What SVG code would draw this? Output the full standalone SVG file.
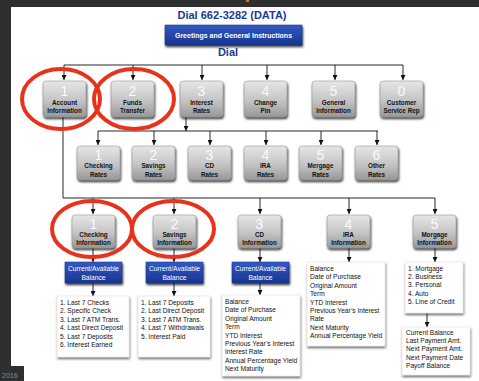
<svg xmlns="http://www.w3.org/2000/svg" width="479" height="381" viewBox="0 0 479 381">
<defs>
<linearGradient id="gGray" x1="0" y1="0" x2="0" y2="1">
<stop offset="0" stop-color="#e6e6e6"/><stop offset="0.55" stop-color="#c4c4c4"/><stop offset="1" stop-color="#979797"/>
</linearGradient>
<linearGradient id="gBlue" x1="0" y1="0" x2="0" y2="1">
<stop offset="0" stop-color="#3358c4"/><stop offset="1" stop-color="#1a358f"/>
</linearGradient>
<filter id="sh" x="-20%" y="-20%" width="150%" height="160%">
<feDropShadow dx="0.8" dy="1.8" stdDeviation="0.8" flood-color="#000" flood-opacity="0.8"/>
</filter>
<filter id="shl" x="-20%" y="-20%" width="150%" height="150%">
<feDropShadow dx="0.6" dy="1.8" stdDeviation="0.9" flood-color="#000" flood-opacity="0.6"/>
</filter>
<marker id="ah" viewBox="0 0 10 10" refX="10" refY="5" markerWidth="5" markerHeight="5" markerUnits="userSpaceOnUse" orient="auto">
<path d="M0,0 L10,5 L0,10 z" fill="#111"/>
</marker>
</defs>
<style>
.btn{fill:url(#gGray);stroke:#8a8a8a;stroke-width:0.5;filter:url(#sh)}
.num{font-family:"Liberation Sans",Arial,sans-serif;font-size:14px;fill:#fafafa;text-anchor:middle}
.lbl{font-family:"Liberation Sans",Arial,sans-serif;font-size:6.3px;font-weight:bold;fill:#111;text-anchor:middle}
.blue{fill:url(#gBlue);stroke:#15307e;stroke-width:0.5;filter:url(#sh)}
.bt{font-family:"Liberation Sans",Arial,sans-serif;font-size:6.7px;fill:#fff;text-anchor:middle}
.list{fill:#fff;stroke:#d8d8d8;stroke-width:0.5;filter:url(#shl)}
.lt{font-family:"Liberation Sans",Arial,sans-serif;font-size:6.6px;fill:#111}
.ln{fill:none;stroke:#111;stroke-width:0.9}
.arr{fill:none;stroke:#111;stroke-width:0.9;marker-end:url(#ah)}
.ring{fill:none;stroke:#e8321c;stroke-width:4}
</style>
<rect x="0" y="0" width="479" height="381" fill="#2d2f31"/>
<rect x="11" y="7" width="468" height="374" fill="#ffffff"/>
<rect x="0" y="366" width="24" height="15" fill="#2d2f31"/>
<rect x="246" y="0" width="3" height="2" fill="#d9742b"/>
<text x="2" y="378" font-family="Liberation Sans,Arial,sans-serif" font-size="7" fill="#8a8a8a">2016</text>

<g id="title">
<text x="232" y="19" font-family="Liberation Sans,Arial,sans-serif" font-size="11" font-weight="bold" fill="#1c3a94" text-anchor="middle">Dial 662-3282 (DATA)</text>
</g>
<g id="greetings">
<rect x="165" y="25" width="137" height="20" class="blue"/>
<text x="233.5" y="37.5" font-family="Liberation Sans,Arial,sans-serif" font-size="7" font-weight="bold" fill="#fff" text-anchor="middle">Greetings and General Instructions</text>
</g>
<g id="dial">
<text x="228" y="56" font-family="Liberation Sans,Arial,sans-serif" font-size="11" font-weight="bold" fill="#1c3a94" text-anchor="middle">Dial</text>
</g>

<g id="connectors">
<path class="ln" d="M64,65 H403"/>
<path class="arr" d="M64,65 V80"/>
<path class="arr" d="M133,65 V80"/>
<path class="arr" d="M202,65 V80"/>
<path class="arr" d="M267,65 V80"/>
<path class="arr" d="M335,65 V80"/>
<path class="arr" d="M403,65 V80"/>
<path class="arr" d="M186,117 V131"/>
<path class="ln" d="M98,131 H378"/>
<path class="arr" d="M98,131 V145"/>
<path class="arr" d="M154,131 V145"/>
<path class="arr" d="M210,131 V145"/>
<path class="arr" d="M266,131 V145"/>
<path class="arr" d="M321,131 V145"/>
<path class="arr" d="M377,131 V145"/>
<path class="ln" d="M63,117 V198 H435"/>
<path class="arr" d="M93,198 V214"/>
<path class="arr" d="M174,198 V214"/>
<path class="arr" d="M260,198 V214"/>
<path class="arr" d="M349,198 V214"/>
<path class="arr" d="M435,198 V214"/>
<path class="arr" d="M93,248 V262"/>
<path class="arr" d="M174,248 V262"/>
<path class="arr" d="M260,248 V262"/>
<path class="arr" d="M349,248 V262"/>
<path class="arr" d="M435,248 V262"/>
<path class="arr" d="M93,283 V296"/>
<path class="arr" d="M174,283 V296"/>
<path class="arr" d="M260,283 V295"/>
<path class="arr" d="M427,313 V327"/>
</g>

<g id="account-information"><rect x="43" y="81" width="43" height="36" rx="3" class="btn"/><text x="64.5" y="96" class="num">1</text><text x="64.5" y="104.5" class="lbl">Account</text><text x="64.5" y="113" class="lbl">Information</text></g>
<g id="funds-transfer"><rect x="111" y="81" width="43" height="36" rx="3" class="btn"/><text x="132.5" y="96" class="num">2</text><text x="132.5" y="104.5" class="lbl">Funds</text><text x="132.5" y="113" class="lbl">Transfer</text></g>
<g id="interest-rates"><rect x="180" y="81" width="43" height="36" rx="3" class="btn"/><text x="201.5" y="96" class="num">3</text><text x="201.5" y="104.5" class="lbl">Interest</text><text x="201.5" y="113" class="lbl">Rates</text></g>
<g id="change-pin"><rect x="244" y="81" width="43" height="36" rx="3" class="btn"/><text x="265.5" y="96" class="num">4</text><text x="265.5" y="104.5" class="lbl">Change</text><text x="265.5" y="113" class="lbl">Pin</text></g>
<g id="general-information"><rect x="312" y="81" width="43" height="36" rx="3" class="btn"/><text x="333.5" y="96" class="num">5</text><text x="333.5" y="104.5" class="lbl">General</text><text x="333.5" y="113" class="lbl">Information</text></g>
<g id="customer-service-rep"><rect x="380" y="81" width="43" height="36" rx="3" class="btn"/><text x="401.5" y="96" class="num">0</text><text x="401.5" y="104.5" class="lbl">Customer</text><text x="401.5" y="113" class="lbl">Service Rep</text></g>

<g id="checking-rates"><rect x="77" y="146" width="43" height="34" rx="3" class="btn"/><text x="98.5" y="160" class="num">1</text><text x="98.5" y="168" class="lbl">Checking</text><text x="98.5" y="176.5" class="lbl">Rates</text></g>
<g id="savings-rates"><rect x="132" y="146" width="43" height="34" rx="3" class="btn"/><text x="153.5" y="160" class="num">2</text><text x="153.5" y="168" class="lbl">Savings</text><text x="153.5" y="176.5" class="lbl">Rates</text></g>
<g id="cd-rates"><rect x="188" y="146" width="43" height="34" rx="3" class="btn"/><text x="209.5" y="160" class="num">3</text><text x="209.5" y="168" class="lbl">CD</text><text x="209.5" y="176.5" class="lbl">Rates</text></g>
<g id="ira-rates"><rect x="244" y="146" width="43" height="34" rx="3" class="btn"/><text x="265.5" y="160" class="num">4</text><text x="265.5" y="168" class="lbl">IRA</text><text x="265.5" y="176.5" class="lbl">Rates</text></g>
<g id="mergage-rates"><rect x="299" y="146" width="43" height="34" rx="3" class="btn"/><text x="320.5" y="160" class="num">5</text><text x="320.5" y="168" class="lbl">Mergage</text><text x="320.5" y="176.5" class="lbl">Rates</text></g>
<g id="other-rates"><rect x="355" y="146" width="43" height="34" rx="3" class="btn"/><text x="376.5" y="160" class="num">6</text><text x="376.5" y="168" class="lbl">Other</text><text x="376.5" y="176.5" class="lbl">Rates</text></g>

<g id="checking-information"><rect x="72" y="215" width="43" height="33" rx="3" class="btn"/><text x="93.5" y="228.5" class="num">1</text><text x="93.5" y="236.5" class="lbl">Checking</text><text x="93.5" y="244.5" class="lbl">Information</text></g>
<g id="savings-information"><rect x="153" y="215" width="43" height="33" rx="3" class="btn"/><text x="174.5" y="228.5" class="num">2</text><text x="174.5" y="236.5" class="lbl">Savings</text><text x="174.5" y="244.5" class="lbl">Information</text></g>
<g id="cd-information"><rect x="238" y="215" width="43" height="33" rx="3" class="btn"/><text x="259.5" y="228.5" class="num">3</text><text x="259.5" y="236.5" class="lbl">CD</text><text x="259.5" y="244.5" class="lbl">Information</text></g>
<g id="ira-information"><rect x="327" y="215" width="43" height="33" rx="3" class="btn"/><text x="348.5" y="228.5" class="num">4</text><text x="348.5" y="236.5" class="lbl">IRA</text><text x="348.5" y="244.5" class="lbl">Information</text></g>
<g id="morgage-information"><rect x="413" y="215" width="43" height="33" rx="3" class="btn"/><text x="434.5" y="228.5" class="num">5</text><text x="434.5" y="236.5" class="lbl">Morgage</text><text x="434.5" y="244.5" class="lbl">Information</text></g>

<g id="checking-balance"><rect x="65" y="262" width="57" height="21" class="blue"/><text x="93.5" y="271" class="bt">Current/Available</text><text x="93.5" y="279.5" class="bt">Balance</text></g>
<g id="savings-balance"><rect x="146" y="262" width="57" height="21" class="blue"/><text x="174.5" y="271" class="bt">Current/Available</text><text x="174.5" y="279.5" class="bt">Balance</text></g>
<g id="cd-balance"><rect x="232" y="262" width="57" height="21" class="blue"/><text x="260.5" y="271" class="bt">Current/Available</text><text x="260.5" y="279.5" class="bt">Balance</text></g>

<g id="checking-list"><rect x="57" y="296" width="72" height="61" class="list"/>
<text class="lt" x="60" y="305">1. Last 7 Checks</text>
<text class="lt" x="60" y="313.4">2. Specific Check</text>
<text class="lt" x="60" y="321.8">3. Last 7 ATM Trans.</text>
<text class="lt" x="60" y="330.2">4. Last Direct Deposit</text>
<text class="lt" x="60" y="338.6">5. Last 7 Deposits</text>
<text class="lt" x="60" y="347">6. Interest Earned</text>
</g>
<g id="savings-list"><rect x="138" y="296" width="72" height="61" class="list"/>
<text class="lt" x="141" y="305">1. Last 7 Deposits</text>
<text class="lt" x="141" y="313.4">2. Last Direct Deposit</text>
<text class="lt" x="141" y="321.8">3. Last 7 ATM Trans.</text>
<text class="lt" x="141" y="330.2">4. Last 7 Withdrawals</text>
<text class="lt" x="141" y="338.6">5. Interest Paid</text>
</g>
<g id="cd-list"><rect x="222" y="295" width="78" height="81" class="list"/>
<text class="lt" x="225" y="304">Balance</text>
<text class="lt" x="225" y="312.4">Date of Purchase</text>
<text class="lt" x="225" y="320.8">Original Amount</text>
<text class="lt" x="225" y="329.2">Term</text>
<text class="lt" x="225" y="337.6">YTD Interest</text>
<text class="lt" x="225" y="346">Previous Year’s Interest</text>
<text class="lt" x="225" y="354.4">Interest Rate</text>
<text class="lt" x="225" y="362.8">Annual Percentage Yield</text>
<text class="lt" x="225" y="371.2">Next Maturity</text>
</g>
<g id="ira-list"><rect x="307" y="262" width="78" height="84" class="list"/>
<text class="lt" x="310" y="271">Balance</text>
<text class="lt" x="310" y="279.4">Date of Purchase</text>
<text class="lt" x="310" y="287.8">Original Amount</text>
<text class="lt" x="310" y="296.2">Term</text>
<text class="lt" x="310" y="304.6">YTD Interest</text>
<text class="lt" x="310" y="313">Previous Year’s Interest</text>
<text class="lt" x="310" y="321.4">Rate</text>
<text class="lt" x="310" y="329.8">Next Maturity</text>
<text class="lt" x="310" y="338.2">Annual Percentage Yield</text>
</g>
<g id="morgage-list"><rect x="405" y="262" width="58" height="51" class="list"/>
<text class="lt" x="408" y="270.5">1. Mortgage</text>
<text class="lt" x="408" y="278.9">2. Business</text>
<text class="lt" x="408" y="287.3">3. Personal</text>
<text class="lt" x="408" y="295.7">4. Auto</text>
<text class="lt" x="408" y="304.1">5. Line of Credit</text>
</g>
<g id="morgage-details"><rect x="402" y="327" width="68" height="48" class="list"/>
<text class="lt" x="406" y="334.5">Current Balance</text>
<text class="lt" x="406" y="342.9">Last Payment Amt.</text>
<text class="lt" x="406" y="351.3">Next Payment Amt.</text>
<text class="lt" x="406" y="359.7">Next Payment Date</text>
<text class="lt" x="406" y="368.1">Payoff Balance</text>
</g>

<g id="highlights">
<ellipse cx="61" cy="99" rx="39" ry="30" class="ring"/>
<ellipse cx="134" cy="99" rx="40" ry="30" class="ring"/>
<ellipse cx="92" cy="229" rx="40" ry="28" class="ring"/>
<ellipse cx="173" cy="229" rx="41" ry="28" class="ring"/>
</g>
</svg>
